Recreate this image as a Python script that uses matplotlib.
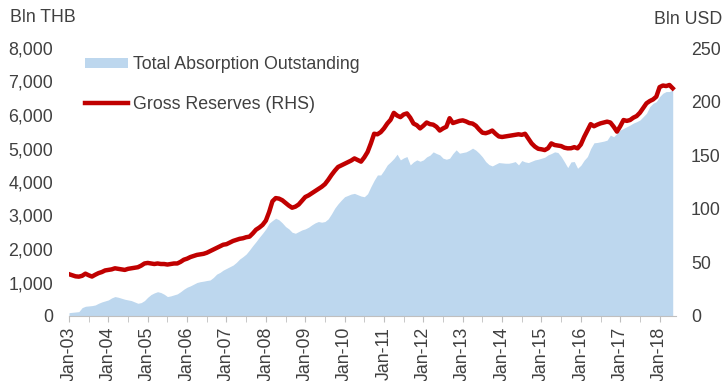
import matplotlib
matplotlib.use("Agg")
import matplotlib.pyplot as plt
from matplotlib.ticker import FuncFormatter, MultipleLocator
from matplotlib.patches import Patch
from matplotlib.lines import Line2D

plt.rcParams['font.family'] = ['Liberation Sans', 'DejaVu Sans']

# monthly, Jan-2003 .. May-2018
absorption = [  # Bln THB
    100, 110, 120, 130, 250, 290, 300, 310, 330, 380, 420, 450,
    480, 540, 580, 560, 530, 500, 480, 460, 420, 380, 400, 460,
    560, 640, 690, 725, 700, 650, 580, 600, 630, 660, 725, 800,
    860, 900, 950, 1000, 1025, 1040, 1060, 1075, 1150, 1250, 1300, 1370,
    1420, 1470, 1520, 1600, 1700, 1770, 1850, 1970, 2100, 2220, 2350, 2470,
    2600, 2770, 2850, 2920, 2870, 2780, 2670, 2600, 2500, 2470, 2520, 2570,
    2600, 2650, 2720, 2780, 2820, 2800, 2820, 2900, 3050, 3220, 3350, 3460,
    3560, 3600, 3640, 3660, 3620, 3580, 3560, 3650, 3860, 4050, 4210, 4210,
    4350, 4510, 4600, 4700, 4830, 4660, 4720, 4760, 4510, 4600, 4660, 4620,
    4660, 4750, 4800, 4900, 4850, 4810, 4710, 4680, 4710, 4850, 4960, 4860,
    4880, 4900, 4950, 5010, 4950, 4860, 4750, 4610, 4520, 4480, 4530, 4580,
    4570, 4560, 4560, 4580, 4610, 4510, 4640, 4600, 4580, 4620, 4660, 4680,
    4710, 4740, 4810, 4850, 4900, 4880, 4760, 4600, 4430, 4600, 4610, 4410,
    4500, 4650, 4760, 5000, 5170, 5180, 5200, 5220, 5250, 5400, 5350, 5450,
    5550, 5600, 5650, 5700, 5760, 5800, 5850, 5950, 6050, 6250, 6350, 6400,
    6550, 6650, 6700, 6700, 6750,
]
reserves = [  # Bln USD
    39.0, 38.0, 37.0, 36.7, 37.5, 39.5, 38.0, 36.8, 38.5, 40.0, 41.0, 42.5,
    43.0, 43.5, 44.5, 44.0, 43.5, 43.0, 44.0, 44.5, 45.0, 45.5, 47.0, 49.0,
    49.5, 49.0, 48.5, 49.0, 48.5, 48.5, 48.0, 48.5, 49.0, 49.0, 50.5, 52.5,
    53.5, 55.0, 56.0, 57.0, 57.5, 58.0, 59.0, 60.5, 62.0, 63.5, 65.0, 66.5,
    67.0, 68.5, 70.0, 71.0, 72.0, 72.5, 73.5, 74.0, 77.0, 80.5, 82.5, 85.0,
    89.0, 97.0, 107.0, 110.0, 109.5, 108.0, 105.5, 103.0, 101.0, 102.0, 104.0, 107.5,
    111.0, 112.5, 114.5, 116.5, 118.5, 120.5, 123.0, 127.0, 131.5, 135.5, 139.0, 140.5,
    142.0, 143.5, 145.0, 147.0, 145.5, 144.0, 148.0, 153.0, 161.0, 170.0, 169.5, 171.5,
    175.0, 179.5, 183.0, 189.5, 187.0, 185.5, 188.0, 189.0, 185.0, 179.5, 178.0, 175.0,
    177.5, 180.5, 179.0, 178.5, 176.5, 173.0, 175.0, 176.5, 184.5, 180.0, 181.0, 182.0,
    182.5, 181.5, 180.0, 179.5, 177.5, 174.0, 171.0, 170.5, 171.5, 173.0, 170.0, 167.5,
    167.0, 167.5, 168.0, 168.5, 169.0, 169.5, 169.0, 170.0, 165.5, 161.0, 158.0, 156.0,
    155.5, 154.8, 156.5, 161.0, 159.5, 159.0, 158.5, 157.0, 156.4, 156.5, 157.5, 156.4,
    160.0, 167.0, 173.0, 179.0, 177.0, 178.5, 179.7, 180.5, 181.3, 180.5, 176.6, 172.0,
    177.0, 182.8, 182.0, 182.8, 185.0, 186.5, 189.6, 194.0, 198.4, 200.5, 202.0, 204.6,
    213.5, 215.0, 214.5, 215.5, 212.4,
]
years = list(range(2003, 2019))
year_labels = [f"Jan-{y % 100:02d}" for y in years]

months = list(range(len(absorption)))
text_col = '#404040'
fs = 12.8
px = 72 / 100  # points per pixel at dpi 100

fig = plt.figure(figsize=(7.24, 3.81), dpi=100)
ax = fig.add_axes([69 / 724, 1 - 316 / 381, 607 / 724, 268 / 381])
ax2 = ax.twinx()

ax.fill_between(months, 0, absorption, color='#BDD7EE', lw=0)
ax2.plot(months, reserves, color='#C00000', lw=3.2, solid_joinstyle='round')

ax.set_xlim(0, 185)
ax.set_ylim(0, 8000)
ax2.set_ylim(0, 250)

ax.set_xticks([12 * i for i in range(len(years))])
ax.set_xticklabels(year_labels, rotation=90, va='top', ha='center')
ax.xaxis.set_minor_locator(MultipleLocator(6))
ax.tick_params(axis='x', which='both', length=6 * px, color='#BFBFBF',
               labelsize=fs, labelcolor=text_col, pad=5 * px)
ax.set_yticks(range(0, 8001, 1000))
ax.yaxis.set_major_formatter(FuncFormatter(lambda v, p: f"{int(v):,}"))
ax.tick_params(axis='y', length=0, labelsize=fs, labelcolor=text_col, pad=16 * px)
ax2.set_yticks(range(0, 251, 50))
ax2.tick_params(axis='y', length=0, labelsize=fs, labelcolor=text_col, pad=15 * px)

for s in ['top', 'left', 'right']:
    ax.spines[s].set_visible(False)
ax.spines['bottom'].set_color('#BFBFBF')
for s in ax2.spines.values():
    s.set_visible(False)

fig.text(10 / 724, 1 - 17 / 381, 'Bln THB', fontsize=fs, color=text_col,
         ha='left', va='center')
fig.text(722 / 724, 1 - 19 / 381, 'Bln USD', fontsize=fs, color=text_col,
         ha='right', va='center')

handles = [Patch(facecolor='#BDD7EE', edgecolor='none'),
           Line2D([], [], color='#C00000', lw=3.2)]
ax2.legend(handles, ['Total Absorption Outstanding', 'Gross Reserves (RHS)'],
           loc='upper left', bbox_to_anchor=(85 / 724, 1 - 56 / 381),
           bbox_transform=fig.transFigure, frameon=False, fontsize=fs,
           labelcolor=text_col, borderpad=0, borderaxespad=0,
           handlelength=2.4, handleheight=0.5, handletextpad=0.3,
           labelspacing=1.3)

fig.savefig('out.png', dpi=100)
